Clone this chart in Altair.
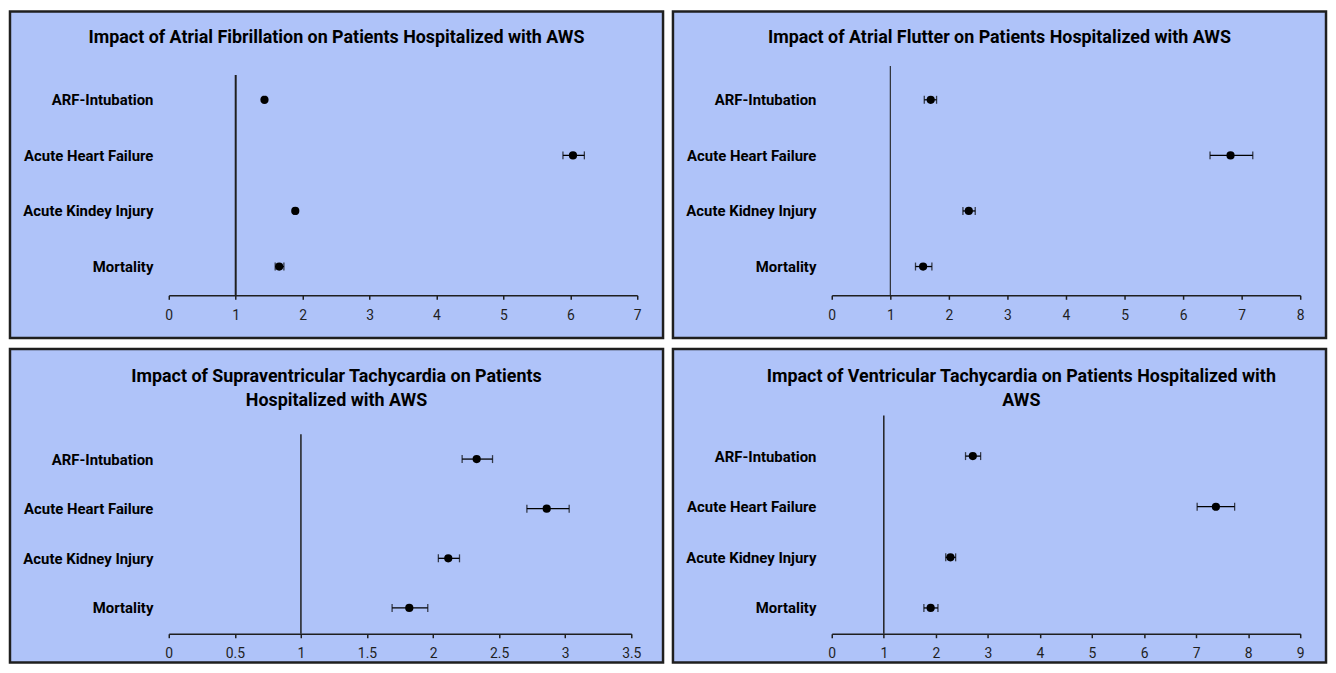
import altair as alt
import pandas as pd

# ---------------- data ----------------
categories_af = ["ARF-Intubation", "Acute Heart Failure", "Acute Kindey Injury", "Mortality"]
categories = ["ARF-Intubation", "Acute Heart Failure", "Acute Kidney Injury", "Mortality"]

af_est = [1.43, 6.04, 1.89, 1.65]
af_lo = [1.41, 5.89, 1.87, 1.59]
af_hi = [1.45, 6.21, 1.91, 1.72]
af_ticks = [0, 1, 2, 3, 4, 5, 6, 7]

afl_est = [1.69, 6.81, 2.34, 1.56]
afl_lo = [1.58, 6.46, 2.24, 1.43]
afl_hi = [1.79, 7.19, 2.45, 1.71]
afl_ticks = [0, 1, 2, 3, 4, 5, 6, 7, 8]

svt_est = [2.33, 2.86, 2.115, 1.82]
svt_lo = [2.22, 2.71, 2.04, 1.69]
svt_hi = [2.45, 3.03, 2.20, 1.96]
svt_ticks = [0, 0.5, 1, 1.5, 2, 2.5, 3, 3.5]

vt_est = [2.71, 7.38, 2.28, 1.90]
vt_lo = [2.57, 7.02, 2.19, 1.77]
vt_hi = [2.86, 7.74, 2.38, 2.04]
vt_ticks = [0, 1, 2, 3, 4, 5, 6, 7, 8, 9]

ref_value = [1]

title_af = "Impact of Atrial Fibrillation on Patients Hospitalized with AWS"
title_afl = "Impact of Atrial Flutter on Patients Hospitalized with AWS"
title_svt = ["Impact of Supraventricular Tachycardia on Patients", "Hospitalized with AWS"]
title_vt = ["Impact of Ventricular Tachycardia on Patients Hospitalized with", "AWS"]

# ---------------- style ----------------
FONT = "Roboto"
BG = "#afc3f9"
INK = "#1f1f1f"


def panel(title, cats, est, lo, hi, ticks, W, H, L, R, T, B, yr, ref_top, dx,
          toff, refw):
    df = pd.DataFrame({"cat": cats, "est": est, "lo": lo, "hi": hi})
    caps = pd.DataFrame({"cat": cats + cats, "end": lo + hi})
    xscale = alt.Scale(domain=[ticks[0], ticks[-1]], nice=False, zero=False)
    yscale = alt.Scale(type="point", domain=cats, range=yr, padding=0)
    xaxis = alt.Axis(values=ticks, format="~g", grid=False, domainColor=INK,
                     domainWidth=1.5, tickColor=INK, tickWidth=1.5, tickSize=4,
                     labelFont=FONT, labelFontSize=14, labelColor=INK,
                     labelPadding=9, labelFlush=False, zindex=1)
    yaxis = alt.Axis(domain=False, ticks=False, grid=False, labelFont=FONT,
                     labelFontSize=15, labelFontWeight="bold", labelColor="black",
                     labelPadding=16, labelLimit=300, zindex=1)

    frame = alt.Chart(pd.DataFrame({"f": [0]})).mark_rect(
        fill=BG, stroke=INK, strokeWidth=2.5
    ).encode(x=alt.value(-L), x2=alt.value(W + R), y=alt.value(-T), y2=alt.value(H + B))

    ref = alt.Chart(pd.DataFrame({"ref": ref_value})).mark_rule(
        color=INK, strokeWidth=refw
    ).encode(x=alt.X("ref:Q", scale=xscale, axis=xaxis, title=None),
             y=alt.value(ref_top), y2=alt.value(H))

    bars = alt.Chart(df).mark_rule(color="black", strokeWidth=1.3).encode(
        x=alt.X("lo:Q", scale=xscale, axis=xaxis, title=None),
        x2="hi:Q",
        y=alt.Y("cat:N", scale=yscale, axis=yaxis, title=None),
    )
    capm = alt.Chart(caps).mark_tick(color="black", thickness=1.3, size=8).encode(
        x=alt.X("end:Q", scale=xscale, axis=xaxis, title=None),
        y=alt.Y("cat:N", scale=yscale, axis=yaxis, title=None),
    )
    pts = alt.Chart(df).mark_circle(color="black", size=68, opacity=1).encode(
        x=alt.X("est:Q", scale=xscale, axis=xaxis, title=None),
        y=alt.Y("cat:N", scale=yscale, axis=yaxis, title=None),
    )
    return alt.layer(frame, ref, bars, capm, pts).properties(
        width=W, height=H,
        title=alt.TitleParams(text=title, font=FONT, fontSize=18, fontWeight="bold",
                              color="black", anchor="middle", frame="bounds",
                              offset=toff, dx=dx, lineHeight=24, baseline="top",
                              zindex=1),
    )


p1 = panel(title_af, categories_af, af_est, af_lo, af_hi, af_ticks,
           472, 231, 160, 26, 55, 43, [34, 202], 9, 0, -37, 2)
p2 = panel(title_afl, categories, afl_est, afl_lo, afl_hi, afl_ticks,
           472, 231, 160, 26, 55, 43, [34, 202], 0, 0, -37, 1.1)
p3 = panel(title_svt, categories, svt_est, svt_lo, svt_hi, svt_ticks,
           466, 220, 160, 32, 67, 29, [44, 194], 19, 0, -63, 1.5)
p4 = panel(title_vt, categories, vt_est, vt_lo, vt_hi, vt_ticks,
           472, 220, 160, 26, 67, 29, [41, 194], 0, 22, -63, 1.5)

chart = alt.concat(p1, p2, p3, p4, columns=2, spacing={"row": 7, "column": 6},
                   align="each").properties(
    padding={"left": 0, "top": -1, "right": 0, "bottom": 0},
    background="white",
).configure_view(stroke="transparent")

chart.save("out.html", embed_options={"renderer": "svg", "actions": False})
